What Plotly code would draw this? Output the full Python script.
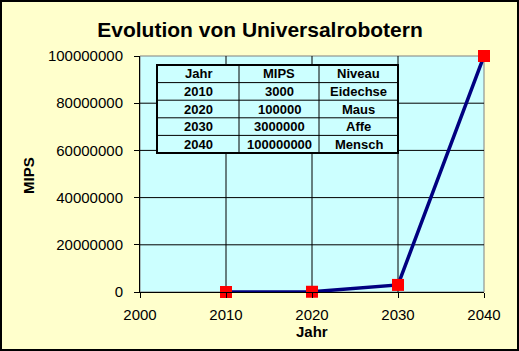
import plotly.graph_objects as go

years = [2010, 2020, 2030, 2040]
mips = [3000, 100000, 3000000, 100000000]
niveau = ["Eidechse", "Maus", "Affe", "Mensch"]
table_header = ["Jahr", "MIPS", "Niveau"]
x_ticks = [2000, 2010, 2020, 2030, 2040]
y_ticks = [0, 20000000, 40000000, 60000000, 80000000, 100000000]

W, H = 519, 351
L, R, T, B = 140, 484, 56, 292
pw, ph = R - L, B - T

def px(x):
    return (x - L) / pw

def py(y):
    return (B - y) / ph

FONT = "Liberation Sans, Arial, sans-serif"

fig = go.Figure()
fig.add_trace(go.Scatter(
    x=years, y=mips, mode="lines+markers",
    line=dict(color="#000080", width=3.5),
    marker=dict(symbol="square", size=12, color="#FF0000", line=dict(width=0)),
    cliponaxis=False, showlegend=False, hoverinfo="x+y",
))

shapes = []
# plot area background + gray frame
shapes.append(dict(type="rect", xref="paper", yref="paper", x0=0, x1=1, y0=0, y1=1,
                   fillcolor="#CCFFFF", line=dict(color="#808080", width=1), layer="below"))
# grid lines
for xv in x_ticks[1:-1]:
    shapes.append(dict(type="line", xref="x", yref="paper", x0=xv, x1=xv, y0=0, y1=1,
                       line=dict(color="black", width=1), layer="below"))
for yv in y_ticks[1:-1]:
    shapes.append(dict(type="line", xref="paper", yref="y", x0=0, x1=1, y0=yv, y1=yv,
                       line=dict(color="black", width=1), layer="below"))

# table
col_x = [157, 239, 319, 398]
row_y = [65 + i * (153 - 65) / 5 for i in range(6)]
shapes.append(dict(type="rect", xref="paper", yref="paper", x0=px(col_x[0]), x1=px(col_x[-1]),
                   y0=py(row_y[-1]), y1=py(row_y[0]), line=dict(width=0),
                   fillcolor="#CCFFFF"))
for cx in col_x[1:-1]:
    shapes.append(dict(type="line", xref="paper", yref="paper", x0=px(cx), x1=px(cx),
                       y0=py(row_y[0]), y1=py(row_y[-1]), line=dict(color="black", width=1)))
for ry in row_y[1:-1]:
    shapes.append(dict(type="line", xref="paper", yref="paper", x0=px(col_x[0]), x1=px(col_x[-1]),
                       y0=py(ry), y1=py(ry), line=dict(color="black", width=1)))
shapes.append(dict(type="rect", xref="paper", yref="paper", x0=px(col_x[0]), x1=px(col_x[-1]),
                   y0=py(row_y[-1]), y1=py(row_y[0]), line=dict(color="black", width=2),
                   fillcolor="rgba(0,0,0,0)"))
# outer chart border
shapes.append(dict(type="rect", xref="paper", yref="paper", x0=px(1), x1=px(518),
                   y0=py(350), y1=py(1), line=dict(color="black", width=2)))

annotations = []
rows = [table_header] + [[str(years[i]), str(mips[i]), niveau[i]] for i in range(len(years))]
for r, row in enumerate(rows):
    yc = (row_y[r] + row_y[r + 1]) / 2
    for c, txt in enumerate(row):
        xc = (col_x[c] + col_x[c + 1]) / 2
        annotations.append(dict(x=px(xc), y=py(yc), xref="paper", yref="paper",
                                text="<b>" + txt + "</b>",
                                showarrow=False, xanchor="center", yanchor="middle",
                                font=dict(family=FONT, size=13, color="black")))
annotations.append(dict(x=px(28), y=py(175), xref="paper", yref="paper", text="<b>MIPS</b>",
                        textangle=-90, showarrow=False, xanchor="center", yanchor="middle",
                        font=dict(family=FONT, size=15, color="black")))
annotations.append(dict(x=px(312), y=py(331), xref="paper", yref="paper", text="<b>Jahr</b>",
                        showarrow=False, xanchor="center", yanchor="middle",
                        font=dict(family=FONT, size=15, color="black")))

fig.update_layout(
    width=W, height=H,
    margin=dict(l=L, r=W - R, t=T, b=H - B, pad=0),
    paper_bgcolor="#FFFFCC", plot_bgcolor="rgba(0,0,0,0)",
    title=dict(text="<b>Evolution von Universalrobotern</b>", x=260 / W, xanchor="center",
               y=1 - 30 / H, yanchor="middle", yref="container",
               font=dict(family=FONT, size=21, color="black")),
    xaxis=dict(range=[2000, 2040], tickvals=x_ticks, showgrid=False, zeroline=False,
               showline=True, linecolor="black", linewidth=1, ticks="outside", ticklen=5,
               tickcolor="black", tickfont=dict(family=FONT, size=15, color="black"),
               ticklabelstandoff=4),
    yaxis=dict(range=[0, 100000000], tickvals=y_ticks, tickformat="d", showgrid=False,
               zeroline=False, showline=True, linecolor="black", linewidth=1, ticks="outside",
               ticklen=5, tickcolor="black", tickfont=dict(family=FONT, size=15, color="black"),
               ticklabelstandoff=8),
    shapes=shapes, annotations=annotations,
)

fig.write_html("out.html")
